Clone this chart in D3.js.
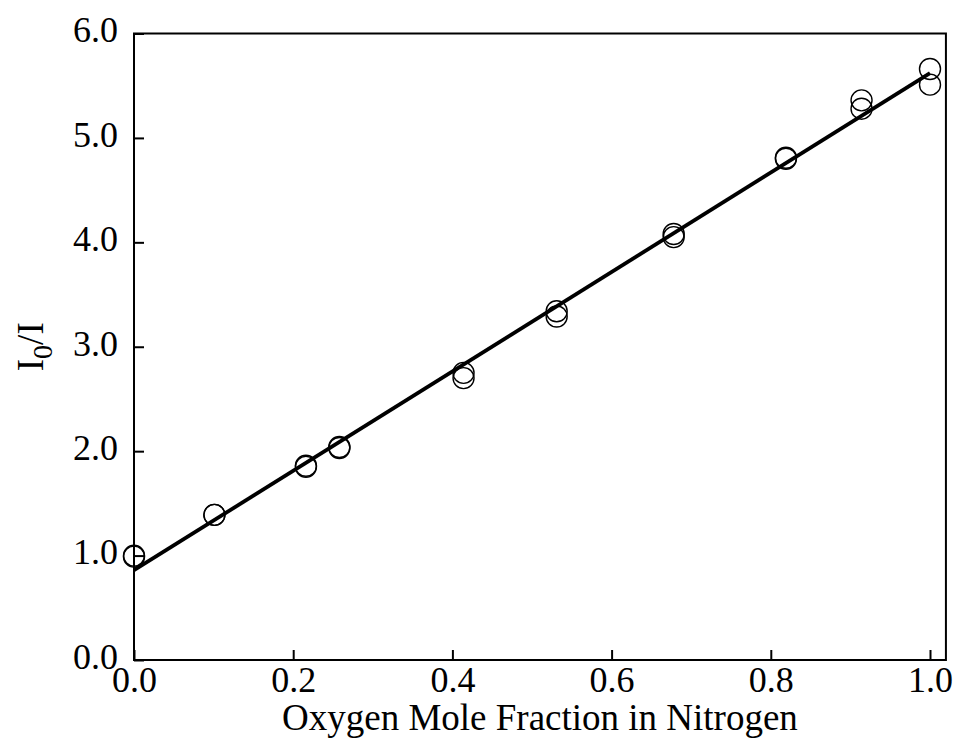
<!DOCTYPE html>
<html>
<head>
<meta charset="utf-8">
<script src="https://cdn.jsdelivr.net/npm/d3@7"></script>
<style>
  body { margin: 0; background: #fff; }
  text { font-family: "Liberation Serif", "DejaVu Serif", serif; fill: #000; }
</style>
</head>
<body>
<script>
var oxygenFrac = [0.0, 0.0, 0.101, 0.101, 0.216, 0.216, 0.258, 0.258, 0.414, 0.414,
                  0.531, 0.531, 0.678, 0.678, 0.819, 0.819, 0.914, 0.914, 1.0, 1.0];
var intensityRatio = [1.00, 0.99, 1.39, 1.39, 1.85, 1.86, 2.03, 2.04, 2.70, 2.75,
                      3.29, 3.34, 4.05, 4.08, 4.80, 4.81, 5.36, 5.28, 5.66, 5.51];

// Fitted straight line, end points
var fitX = [0.0, 1.0];
var fitY = [0.86, 5.62];

// Tick values
var xTicks = [0.0, 0.2, 0.4, 0.6, 0.8, 1.0];
var yTicks = [0, 1, 2, 3, 4, 5, 6];

var width = 959, height = 745;

var svg = d3.select("body").append("svg")
    .attr("width", width)
    .attr("height", height);

// Scales
var x = d3.scaleLinear().domain([0, 1]).range([134, 930]);
var y = d3.scaleLinear().domain([0, 6]).range([660, 33.5]);
var xMax = 1.02;

// Frame round the plot
svg.append("rect")
    .attr("x", x(0))
    .attr("y", y(6))
    .attr("width", x(xMax) - x(0))
    .attr("height", y(0) - y(6))
    .style("fill", "none")
    .style("stroke", "#000")
    .style("stroke-width", 2);

// Axes, ticks pointing inward
var fmt = d3.format(".1f");

var xAxis = svg.append("g")
    .attr("transform", "translate(0," + y(0) + ")")
    .call(d3.axisBottom(x).tickValues(xTicks).tickFormat(fmt)
      .tickSizeInner(-10).tickSizeOuter(0).tickPadding(6));

var yAxis = svg.append("g")
    .attr("transform", "translate(" + x(0) + ",0)")
    .call(d3.axisLeft(y).tickValues(yTicks).tickFormat(fmt)
      .tickSizeInner(-10).tickSizeOuter(0).tickPadding(16));

[xAxis, yAxis].forEach(function(g) {
  g.select(".domain").remove();
  g.selectAll(".tick line").style("stroke", "#000").style("stroke-width", 2);
  g.selectAll(".tick text")
      .style("font-family", "'Liberation Serif', serif")
      .style("font-size", "36px")
      .style("fill", "#000");
});
yAxis.selectAll(".tick text").attr("dy", "0.23em");

// Fit line
var line = d3.line()
    .x(function(d) { return x(d[0]); })
    .y(function(d) { return y(d[1]); });

svg.append("path")
    .datum(d3.zip(fitX, fitY))
    .attr("d", line)
    .style("fill", "none")
    .style("stroke", "#000")
    .style("stroke-width", 3.8);

// Data circles
svg.selectAll("circle.pt")
    .data(d3.zip(oxygenFrac, intensityRatio))
  .enter().append("circle")
    .attr("class", "pt")
    .attr("cx", function(d) { return x(d[0]); })
    .attr("cy", function(d) { return y(d[1]); })
    .attr("r", 10.5)
    .style("fill", "none")
    .style("stroke", "#000")
    .style("stroke-width", 1.4);

// Axis titles
svg.append("text")
    .attr("x", (x(0) + x(xMax)) / 2)
    .attr("y", 730)
    .style("text-anchor", "middle")
    .style("font-size", "37px")
    .text("Oxygen Mole Fraction in Nitrogen");

var yTitle = svg.append("text")
    .attr("transform", "translate(43," + ((y(0) + y(6)) / 2) + ") rotate(-90)")
    .style("text-anchor", "middle")
    .style("font-size", "37px");
yTitle.append("tspan").text("I");
yTitle.append("tspan").attr("dy", 9).style("font-size", "28px").text("0");
yTitle.append("tspan").attr("dy", -9).text("/I");
</script>
</body>
</html>
